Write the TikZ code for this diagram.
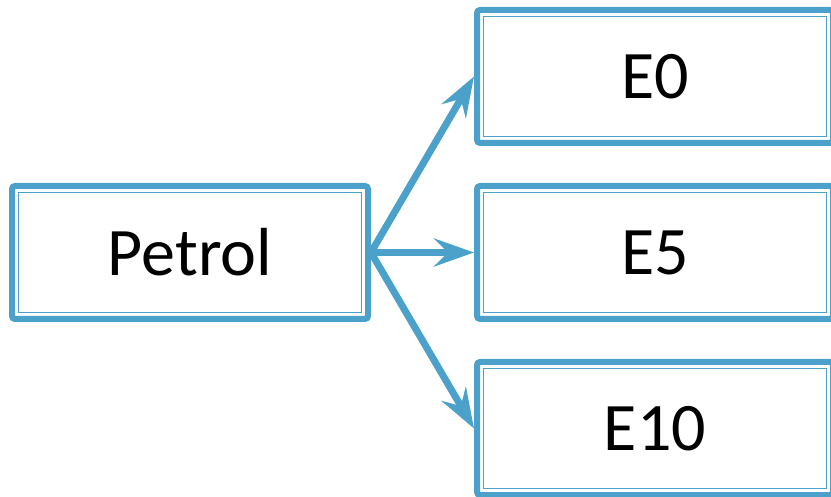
\documentclass[tikz,border=0pt]{standalone}
\usepackage{fontspec}
\setmainfont{Carlito}
\usepackage{tikz}
\usetikzlibrary{arrows.meta,calc}
\definecolor{fuelblue}{RGB}{75,161,201}
\tikzstyle{fuelbox} = [rectangle, rounded corners=3pt,
minimum width=356pt,
minimum height=133pt,
text centered,
line width=6pt,
draw=fuelblue,
fill=white,
font=\fontsize{68pt}{80pt}\selectfont]
\tikzstyle{innerrim} = [draw=fuelblue, line width=1.8pt]
\tikzstyle{fuelarrow} = [draw=fuelblue, line width=7pt, -{Stealth[length=40pt, width=28pt, inset=14pt]}]

\begin{document}
\begin{tikzpicture}[x=1pt, y=-1pt]
        \useasboundingbox (0,0) rectangle (831,497);
        \node (petrol) [fuelbox] at (190,252.5) {Petrol};
        \node (e0) [fuelbox] at (655,76.5) {E0};
        \node (e5) [fuelbox] at (655,252.5) {E5};
        \node (e10) [fuelbox] at (655,428.5) {E10};

        \foreach \n in {petrol,e0,e5,e10}{
          \draw [innerrim] ($(\n.north west)+(9.5pt,-9.5pt)$) rectangle ($(\n.south east)+(-9.5pt,9.5pt)$);
        }

        \draw [fuelarrow] (petrol.east) -- (e0.west);
        \draw [fuelarrow] (petrol.east) -- (e5.west);
        \draw [fuelarrow] (petrol.east) -- (e10.west);
\end{tikzpicture}
\end{document}
